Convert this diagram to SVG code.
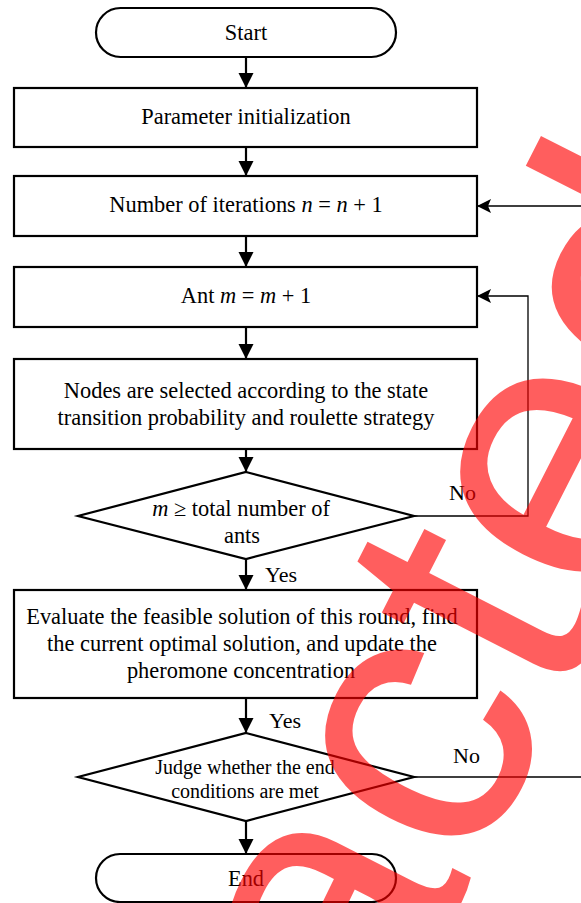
<svg xmlns="http://www.w3.org/2000/svg" width="581" height="903" viewBox="0 0 581 903">
<defs>
<style>
.box{fill:none;stroke:#000;stroke-width:2.2}
.t{font-family:"Liberation Serif","Times New Roman",serif;font-size:22.4px;fill:#000;text-anchor:middle}
.s{font-size:20px}
.lbl{font-family:"Liberation Serif","Times New Roman",serif;font-size:22px;fill:#000}
.c{fill:none;stroke:#000;stroke-width:2.2}
.c2{fill:none;stroke:#000;stroke-width:1.3}
.wm{font-family:"Liberation Sans",Arial,sans-serif;font-size:380px;fill:#ff0000;fill-opacity:0.63}
</style>
<marker id="ah" markerUnits="userSpaceOnUse" markerWidth="16" markerHeight="16" refX="15" refY="7.5" orient="auto">
<path d="M0,0 L15,7.5 L0,15 z" fill="#000"/>
</marker>
<marker id="ah2" markerUnits="userSpaceOnUse" markerWidth="16" markerHeight="16" refX="14" refY="7" orient="auto">
<path d="M0,0 L14,7 L0,14 L3,7 z" fill="#000"/>
</marker>
</defs>
<rect width="581" height="903" fill="#fff"/>
<g id="connectors">
<line class="c" x1="246" y1="57" x2="246" y2="88" marker-end="url(#ah)"/>
<line class="c" x1="246" y1="147" x2="246" y2="176" marker-end="url(#ah)"/>
<line class="c" x1="246" y1="236" x2="246" y2="267" marker-end="url(#ah)"/>
<line class="c" x1="246" y1="327" x2="246" y2="359" marker-end="url(#ah)"/>
<line class="c" x1="246" y1="449" x2="246" y2="472" marker-end="url(#ah)"/>
<line class="c" x1="246" y1="559" x2="246" y2="590" marker-end="url(#ah)"/>
<line class="c" x1="246" y1="698" x2="246" y2="733" marker-end="url(#ah)"/>
<line class="c" x1="246" y1="821" x2="246" y2="854" marker-end="url(#ah)"/>
<path class="c2" d="M414,516 H528 V296 H477" marker-end="url(#ah2)"/>
<path class="c2" d="M414,777 H600 V206 H477" marker-end="url(#ah2)"/>
<text class="lbl" x="265" y="582">Yes</text>
<text class="lbl" x="449" y="500">No</text>
<text class="lbl" x="269" y="728">Yes</text>
<text class="lbl" x="453" y="763">No</text>
</g>
<g id="start">
<rect class="box" x="96" y="8" width="300" height="49" rx="24.5"/>
<text class="t" x="246" y="40">Start</text>
</g>
<g id="init">
<rect class="box" x="14" y="88" width="463" height="59"/>
<text class="t" x="246" y="124">Parameter initialization</text>
</g>
<g id="iter">
<rect class="box" x="14" y="176" width="463" height="60"/>
<text class="t" x="246" y="212">Number of iterations <tspan font-style="italic">n</tspan> = <tspan font-style="italic">n</tspan> + 1</text>
</g>
<g id="ant">
<rect class="box" x="14" y="267" width="463" height="60"/>
<text class="t" x="246" y="303">Ant <tspan font-style="italic">m</tspan> = <tspan font-style="italic">m</tspan> + 1</text>
</g>
<g id="select">
<rect class="box" x="14" y="359" width="463" height="90"/>
<text class="t" x="246" y="398">Nodes are selected according to the state</text>
<text class="t" x="246" y="425">transition probability and roulette strategy</text>
</g>
<g id="check-ants">
<polygon class="box" points="246,472 414,516 246,559 78,516"/>
<text class="t" x="241" y="516"><tspan font-style="italic">m</tspan> ≥ total number of</text>
<text class="t" x="242" y="543">ants</text>
</g>
<g id="evaluate">
<rect class="box" x="14" y="590" width="463" height="108"/>
<text class="t" x="242" y="624">Evaluate the feasible solution of this round, find</text>
<text class="t" x="242" y="651">the current optimal solution, and update the</text>
<text class="t" x="241" y="678">pheromone concentration</text>
</g>
<g id="check-end">
<polygon class="box" points="246,733 414,777 246,821 78,777"/>
<text class="t s" x="245" y="774">Judge whether the end</text>
<text class="t s" x="245" y="798">conditions are met</text>
</g>
<g id="end">
<rect class="box" x="96" y="854" width="300" height="48" rx="24"/>
<text class="t" x="246" y="886">End</text>
</g>
<text class="wm" transform="translate(50,1706) rotate(-63)">Retracted</text>
</svg>
